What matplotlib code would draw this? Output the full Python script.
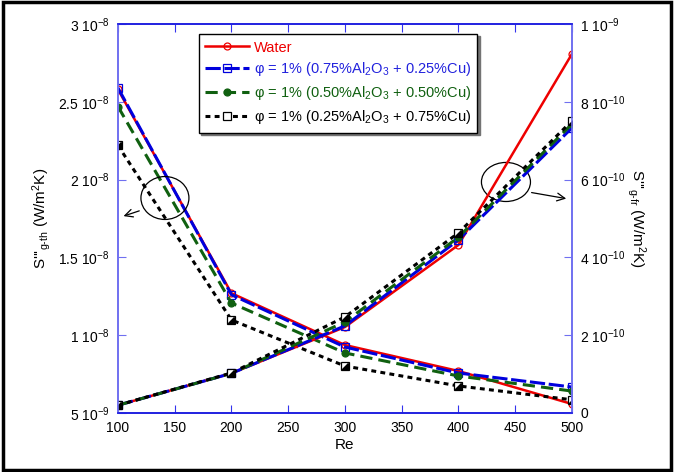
import matplotlib.pyplot as plt
from matplotlib.patches import Ellipse, Rectangle
from matplotlib.path import Path

plt.rcParams['font.family'] = ['Liberation Sans', 'DejaVu Sans']
plt.rcParams['mathtext.fontset'] = 'custom'
plt.rcParams['mathtext.rm'] = 'Liberation Sans'
plt.rcParams['mathtext.it'] = 'Liberation Sans:italic'

re = [100, 200, 300, 400, 500]

# generation due to heat transfer (left axis)
sth_water = [2.58e-8, 1.27e-8, 9.37e-9, 7.70e-9, 5.58e-9]
sth_a = [2.59e-8, 1.26e-8, 9.24e-9, 7.57e-9, 6.67e-9]
sth_b = [2.47e-8, 1.207e-8, 8.86e-9, 7.38e-9, 6.41e-9]
sth_c = [2.22e-8, 1.098e-8, 8.02e-9, 6.74e-9, 5.85e-9]

# generation due to fluid friction (right axis)
sfr_water = [2.0e-11, 1.02e-10, 2.21e-10, 4.32e-10, 9.23e-10]
sfr_a = [2.0e-11, 1.02e-10, 2.24e-10, 4.45e-10, 7.33e-10]
sfr_b = [2.0e-11, 1.02e-10, 2.34e-10, 4.52e-10, 7.43e-10]
sfr_c = [2.0e-11, 1.03e-10, 2.47e-10, 4.63e-10, 7.51e-10]

labels = [
    "Water",
    r"φ = 1% (0.75%Al$_{2}$O$_{3}$ + 0.25%Cu)",
    r"φ = 1% (0.50%Al$_{2}$O$_{3}$ + 0.50%Cu)",
    r"φ = 1% (0.25%Al$_{2}$O$_{3}$ + 0.75%Cu)",
]

left_ticks = [5e-9, 1e-8, 1.5e-8, 2e-8, 2.5e-8, 3e-8]
left_ticklabels = [r"5 10$^{-9}$", r"1 10$^{-8}$", r"1.5 10$^{-8}$",
                   r"2 10$^{-8}$", r"2.5 10$^{-8}$", r"3 10$^{-8}$"]
right_ticks = [0, 2e-10, 4e-10, 6e-10, 8e-10, 1e-9]
right_ticklabels = ["0", r"2 10$^{-10}$", r"4 10$^{-10}$", r"6 10$^{-10}$",
                    r"8 10$^{-10}$", r"1 10$^{-9}$"]

# half-filled square marker (lower-right triangle)
tri = Path([(1, 1), (1, -1), (-1, -1), (1, 1)])

styles = [
    dict(color="#ee0000", ls="-", lw=1.8, marker="o", ms=5, mfc="none", mew=0.9),
    dict(color="#0000dd", ls=(0, (5, 1.2)), lw=2.2, marker="s", ms=5.5, mfc="none", mew=0.9),
    dict(color="#106010", ls=(0, (4, 2)), lw=2.2, marker="o", ms=5, mfc="#106010", mew=0.9),
    dict(color="black", ls=(0, (1.6, 1.4)), lw=2.2, marker="s", ms=5.5, mfc="white", mew=0.9),
]

fig = plt.figure(figsize=(6.74, 4.72), dpi=100)
ax = fig.add_axes([0.175, 0.125, 0.6735, 0.824])
ax2 = ax.twinx()

handles = []
for y_th, y_fr, st, lab in zip([sth_water, sth_a, sth_b, sth_c],
                               [sfr_water, sfr_a, sfr_b, sfr_c], styles, labels):
    h, = ax.plot(re, y_th, label=lab, **st)
    ax2.plot(re, y_fr, **st)
    handles.append(h)
    if st["color"] == "black":
        ax.plot(re, y_th, ls="none", marker=tri, ms=4.2, color="black")
        ax2.plot(re, y_fr, ls="none", marker=tri, ms=4.2, color="black")

ax.set_xlim(100, 500)
ax.set_ylim(5e-9, 3e-8)
ax2.set_ylim(0, 1e-9)
ax.set_xticks(range(100, 501, 50))
ax.set_yticks(left_ticks)
ax.set_yticklabels(left_ticklabels)
ax2.set_yticks(right_ticks)
ax2.set_yticklabels(right_ticklabels)

tick_col = "#3333ee"
ax.tick_params(axis="x", direction="in", top=True, length=6, color=tick_col, labelsize=10, pad=6)
ax.tick_params(axis="y", direction="in", length=6, color="#7070f0", labelsize=10, pad=6)
ax2.tick_params(axis="y", direction="in", length=6, color="#7070f0", labelsize=10, pad=6)
for a in (ax, ax2):
    a.spines["left"].set_color("#7070f0")
    a.spines["right"].set_color("#7070f0")
    a.spines["top"].set_color("#2020e0")
    a.spines["bottom"].set_color("#2020e0")
    for s in a.spines.values():
        s.set_linewidth(1.2)

ax.set_xlabel("Re", fontsize=11, labelpad=2)
ax.set_ylabel(r"S'''$_{\rm g\text{-}th}$ (W/m$^{2}$K)", fontsize=11, labelpad=4)
ax2.set_ylabel(r"S'''$_{\rm g\text{-}fr}$ (W/m$^{2}$K)", fontsize=11, rotation=-90, labelpad=16)

# grouping ellipses and arrows
ax.add_patch(Ellipse((141.4, 1.882e-8), 42.3, 2.76e-9, fill=False, lw=0.9, color="black", zorder=5))
ax.annotate("", xy=(102.6, 1.760e-8), xytext=(121.1, 1.805e-8),
            arrowprops=dict(arrowstyle="->", lw=0.9, color="black", mutation_scale=14))
ax.add_patch(Ellipse((441.9, 1.985e-8), 43.2, 2.51e-9, fill=False, lw=0.9, color="black", zorder=5))
ax.annotate("", xy=(497.4, 1.875e-8), xytext=(462.1, 1.920e-8),
            arrowprops=dict(arrowstyle="->", lw=0.9, color="black", mutation_scale=14))

leg = ax2.legend(handles, labels, loc="upper left", bbox_to_anchor=(0.295, 0.928),
                 bbox_transform=fig.transFigure, fancybox=False, framealpha=1,
                 edgecolor="black", fontsize=10.5, labelcolor="linecolor",
                 handlelength=3.0, handletextpad=0.3, borderpad=0.45,
                 labelspacing=0.4, borderaxespad=0,
                 shadow={"ox": 1.5, "oy": -1.5, "color": "0.45", "alpha": 1})
leg.get_frame().set_linewidth(1.0)
for t, c in zip(leg.get_texts(), ["#ee0000", "#2222dd", "#106010", "black"]):
    t.set_color(c)

fig.patches.append(Rectangle((0.004, 0.004), 0.992, 0.992, transform=fig.transFigure,
                             fill=False, lw=2.5, edgecolor="black"))

fig.savefig("out.png", dpi=100)
